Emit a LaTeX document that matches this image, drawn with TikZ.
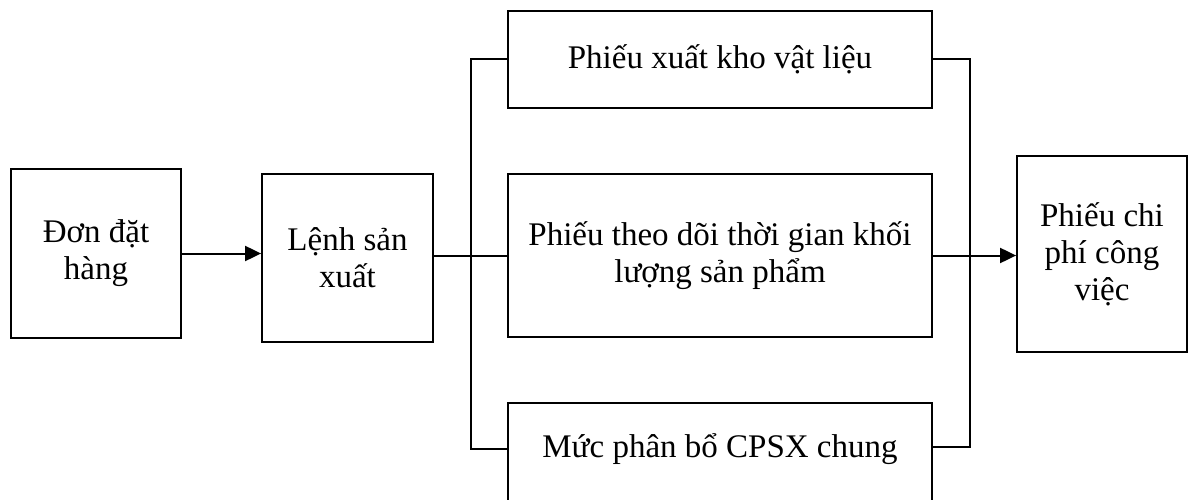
\documentclass[tikz,border=0pt]{standalone}
\usepackage{fontspec}
\setmainfont{Liberation Serif}
\usetikzlibrary{arrows.meta}
\begin{document}
\begin{tikzpicture}[x=1pt,y=-1pt,
  box/.style={draw,line width=1.8pt,align=center,inner sep=0pt,font=\fontsize{33}{37}\selectfont},
  txt/.style={align=center,inner sep=0pt,font=\fontsize{33}{37}\selectfont},
  conn/.style={line width=2pt},
  arr/.style={line width=2pt,-{Triangle[length=16pt,width=15pt]}}]
\useasboundingbox (0,0) rectangle (1189,500);
\clip (0,0) rectangle (1189,500);
\node[box,minimum width=170pt,minimum height=169pt] (n1) at (96,253.5) {Đơn đặt\\hàng};
\node[box,minimum width=171pt,minimum height=168pt] (n2) at (347.5,258) {Lệnh sản\\xuất};
\node[box,minimum width=424pt,minimum height=97pt] (t) at (720,59.5) {Phiếu xuất kho vật liệu};
\node[box,minimum width=424pt,minimum height=163pt] (m) at (720,255.5) {Phiếu theo dõi thời gian khối\\lượng sản phẩm};
\node[draw,line width=1.8pt,minimum width=424pt,minimum height=117pt,inner sep=0pt] (b) at (720,461.5) {};
\node[txt] (btext) at (720,449) {Mức phân bổ CPSX chung};
\node[box,minimum width=170pt,minimum height=196pt] (n3) at (1102,254) {Phiếu chi\\phí công\\việc};
\coordinate (bl) at (471,449);
\coordinate (br) at (970,447);
\draw[arr] (n1.east) -- (n1.east -| n2.west);
\draw[conn] (n2.east |- m.west) -- (m.west);
\draw[conn] (t.west) -| (bl) -- (bl -| b.west);
\draw[conn] (t.east) -| (br) -- (br -| b.east);
\draw[arr] (m.east) -- (m.east -| n3.west);
\end{tikzpicture}
\end{document}
